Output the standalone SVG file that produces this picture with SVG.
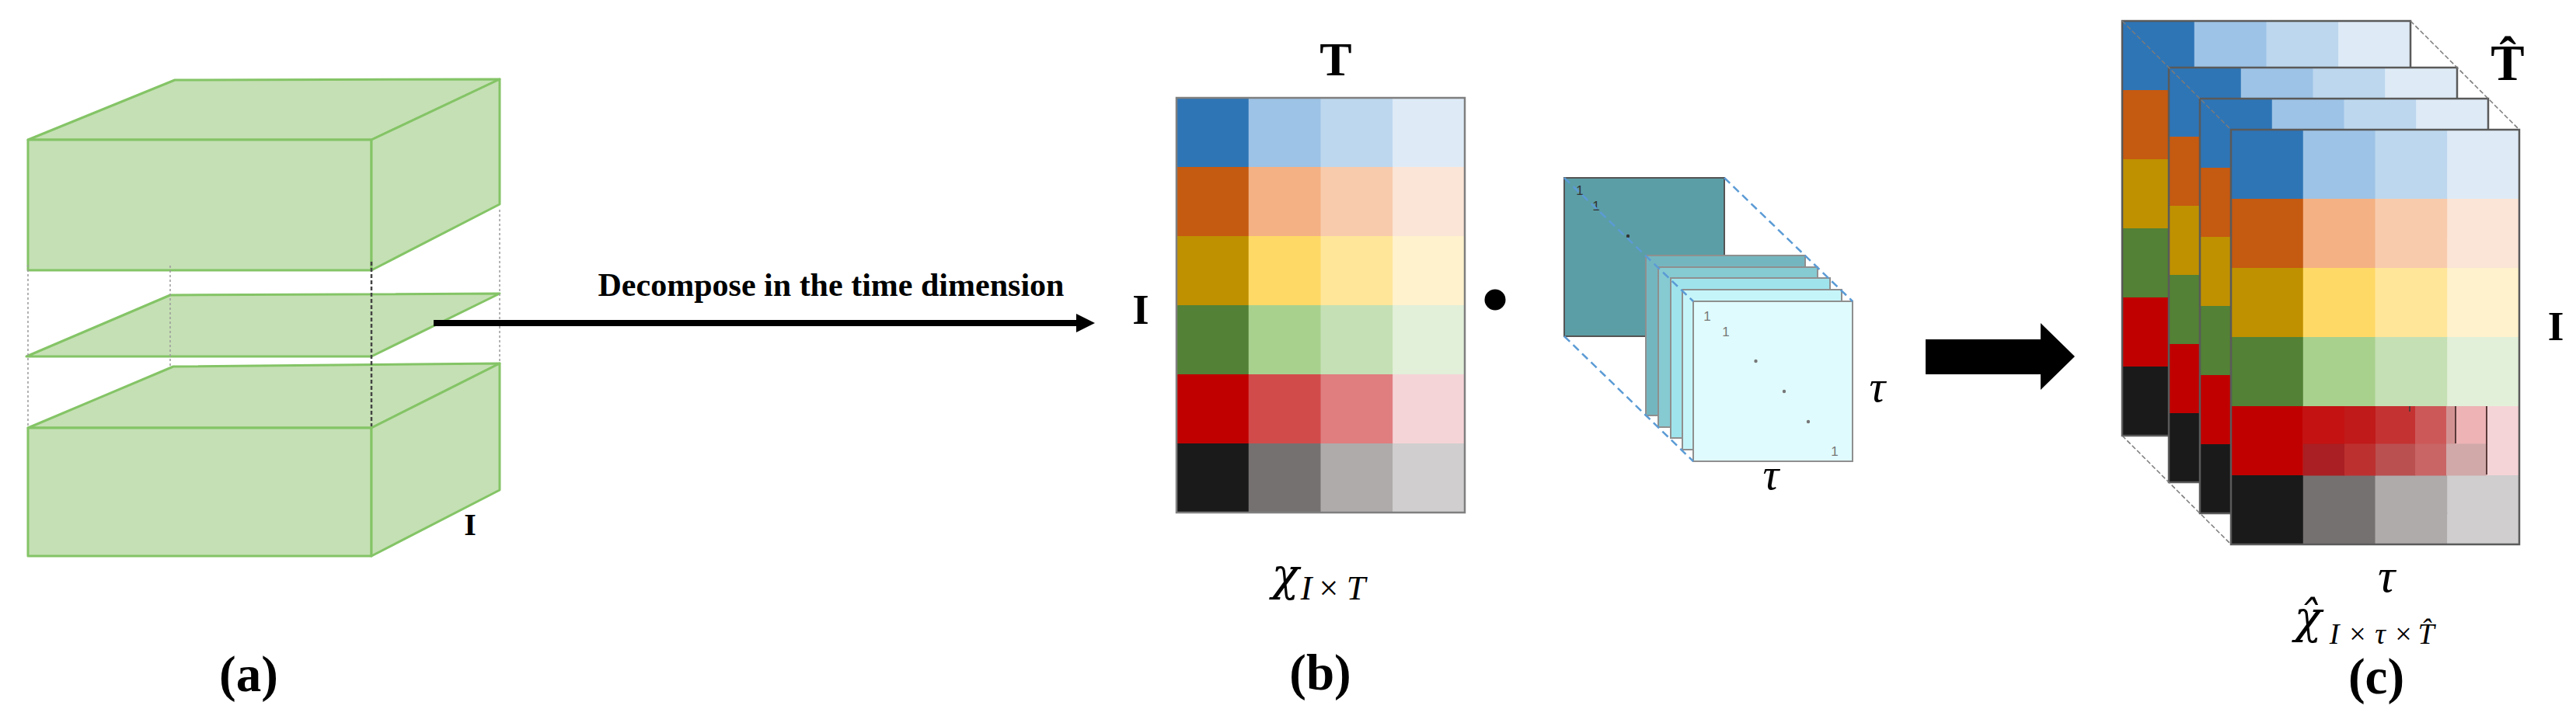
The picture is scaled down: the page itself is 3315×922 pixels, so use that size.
<svg xmlns="http://www.w3.org/2000/svg" xmlns:xlink="http://www.w3.org/1999/xlink" width="3315" height="922" viewBox="0 0 3315 922">
<style>
.g{fill:#C5E0B4;stroke:#84C466;stroke-width:3;stroke-linejoin:round}
.dot{fill:none;stroke:#9A9A9A;stroke-width:1.5;stroke-dasharray:3 3}
.lbl{font-family:"Liberation Serif","Times New Roman",serif;font-weight:bold;fill:#000;text-anchor:middle}
.cap{font-family:"Liberation Serif","Times New Roman",serif;font-weight:bold;fill:#000;text-anchor:start}
.it{font-family:"Liberation Serif","Times New Roman",serif;font-style:italic;fill:#000;text-anchor:middle}
.chi{font-family:"DejaVu Serif",serif;font-style:italic}
.up{font-style:normal}
.plate{stroke:#8F8F8F;stroke-width:2}
.blue{fill:none;stroke:#5B9BD5;stroke-width:2.5;stroke-dasharray:10 6}
.diag{fill:none;stroke:#7A7A7A;stroke-width:1.5;stroke-dasharray:6 3}
.one{font-family:"Liberation Sans",Arial,sans-serif;font-size:17px;text-anchor:middle}
</style>
<defs>
<g id="mat">
<rect x="0" y="0" width="93.25" height="89.5" fill="#2E75B6"/>
<rect x="92.75" y="0" width="93.25" height="89.5" fill="#9DC3E6"/>
<rect x="185.5" y="0" width="93.25" height="89.5" fill="#BDD7EE"/>
<rect x="278.25" y="0" width="92.75" height="89.5" fill="#DEEBF7"/>
<rect x="0" y="89" width="93.25" height="89.5" fill="#C55A11"/>
<rect x="92.75" y="89" width="93.25" height="89.5" fill="#F4B183"/>
<rect x="185.5" y="89" width="93.25" height="89.5" fill="#F8CBAD"/>
<rect x="278.25" y="89" width="92.75" height="89.5" fill="#FBE5D6"/>
<rect x="0" y="178" width="93.25" height="89.5" fill="#BF9000"/>
<rect x="92.75" y="178" width="93.25" height="89.5" fill="#FFD966"/>
<rect x="185.5" y="178" width="93.25" height="89.5" fill="#FFE699"/>
<rect x="278.25" y="178" width="92.75" height="89.5" fill="#FFF2CC"/>
<rect x="0" y="267" width="93.25" height="89.5" fill="#538135"/>
<rect x="92.75" y="267" width="93.25" height="89.5" fill="#A9D18E"/>
<rect x="185.5" y="267" width="93.25" height="89.5" fill="#C5E0B4"/>
<rect x="278.25" y="267" width="92.75" height="89.5" fill="#E2F0D9"/>
<rect x="0" y="356" width="93.25" height="89.5" fill="#C00000"/>
<rect x="92.75" y="356" width="93.25" height="89.5" fill="#D24B4B"/>
<rect x="185.5" y="356" width="93.25" height="89.5" fill="#E07D7F"/>
<rect x="278.25" y="356" width="92.75" height="89.5" fill="#F5D4D7"/>
<rect x="0" y="445" width="93.25" height="89" fill="#1A1A1A"/>
<rect x="92.75" y="445" width="93.25" height="89" fill="#767171"/>
<rect x="185.5" y="445" width="93.25" height="89" fill="#AFABAB"/>
<rect x="278.25" y="445" width="92.75" height="89" fill="#D0CECE"/>
</g>
</defs>
<rect width="3315" height="922" fill="#FFFFFF"/>

<g id="panel-a">
<polygon class="g" points="36,551 223,472 643,468 478,551"/>
<rect class="g" x="36" y="551" width="442" height="165"/>
<polygon class="g" points="478,551 643,468 643,631 478,716"/>
<polygon class="g" points="34,459 219,380 643,378 478,459"/>
<polygon class="g" points="36,180 225,103 643,102 478,180"/>
<rect class="g" x="36" y="180" width="442" height="168"/>
<polygon class="g" points="478,180 643,102 643,263 478,348"/>
<line class="dot" x1="36" y1="341" x2="36" y2="551"/>
<line class="dot" x1="219" y1="342" x2="219" y2="472"/>
<line class="dot" x1="643" y1="270" x2="643" y2="468" stroke="#B5B5B5"/>
<line x1="478" y1="337" x2="478" y2="549" stroke="#444" stroke-width="2.5" stroke-dasharray="5 3"/>
<text class="lbl" x="605" y="689" font-size="40">I</text>
<text class="lbl" x="320" y="890" font-size="65">(a)</text>
</g>

<g id="connectors">
<line x1="558" y1="416" x2="1388" y2="416" stroke="#000" stroke-width="8"/>
<polygon points="1385,404 1409,416 1385,428" fill="#000"/>
<text class="cap" x="769.5" y="381" font-size="42" textLength="600" lengthAdjust="spacingAndGlyphs">Decompose in the time dimension</text>
<polygon points="2478,437 2626,437 2626,416 2670,459 2626,502 2626,482 2478,482" fill="#000"/>
</g>

<g id="matrix-b">
<use xlink:href="#mat" href="#mat" x="1514" y="126"/>
<rect x="1514" y="126" width="371" height="534" fill="none" stroke="#7F7F7F" stroke-width="2.5"/>
<text class="lbl" x="1719" y="97" font-size="62">T</text>
<text class="lbl" x="1468" y="417" font-size="55">I</text>
<text class="it" x="1654" y="760" font-size="58"><tspan class="chi">χ</tspan><tspan x="1681" y="772" font-size="44">I</tspan><tspan class="up" x="1710" y="772" font-size="44">×</tspan><tspan x="1745" y="772" font-size="44">T</tspan></text>
<text class="lbl" x="1699" y="888" font-size="65">(b)</text>
</g>

<g id="product-dot">
<circle cx="1924" cy="386" r="13.5" fill="#000"/>
</g>

<g id="identity-stack">
<rect x="2013" y="229" width="206" height="204" fill="#5B9EA6" stroke="#555" stroke-width="2"/>
<text class="one" x="2033" y="251" fill="#333">1</text>
<text class="one" x="2054" y="271" fill="#333">1</text>
<circle cx="2095" cy="304" r="2.2" fill="#333"/>
<rect class="plate" x="2118" y="329" width="205" height="206" fill="#74B6BF"/>
<rect class="plate" x="2134" y="344" width="205" height="206" fill="#86CAD2"/>
<rect class="plate" x="2150" y="358" width="205" height="206" fill="#9FE4EC"/>
<rect class="plate" x="2165" y="373" width="205" height="206" fill="#C6F5F9"/>
<rect class="plate" x="2179" y="388" width="205" height="206" fill="#E0FBFD"/>
<text class="one" x="2197" y="413" fill="#777">1</text>
<text class="one" x="2221" y="433" fill="#777">1</text>
<circle cx="2259.5" cy="465" r="2.2" fill="#777"/>
<circle cx="2296" cy="504" r="2.2" fill="#777"/>
<circle cx="2327" cy="543" r="2.2" fill="#777"/>
<text class="one" x="2361" y="587" fill="#777">1</text>
<line class="blue" x1="2013" y1="229" x2="2179" y2="388"/>
<line class="blue" x1="2219" y1="229" x2="2384" y2="388"/>
<line class="blue" x1="2013" y1="433" x2="2179" y2="594"/>
<text class="it" x="2416" y="517" font-size="58">τ</text>
<text class="it" x="2279" y="630" font-size="58">τ</text>
</g>

<g id="stack-c">
<use xlink:href="#mat" href="#mat" x="2731" y="27"/>
<rect x="2731" y="27" width="371" height="534" fill="none" stroke="#5A5A5A" stroke-width="2.5"/>
<use xlink:href="#mat" href="#mat" x="2791" y="87"/>
<rect x="2791" y="87" width="371" height="534" fill="none" stroke="#5A5A5A" stroke-width="2.5"/>
<use xlink:href="#mat" href="#mat" x="2831" y="127"/>
<rect x="2831" y="127" width="371" height="534" fill="none" stroke="#5A5A5A" stroke-width="2.5"/>
<use xlink:href="#mat" href="#mat" x="2871" y="167"/>
<rect x="2963.75" y="523" width="53.5" height="49" fill="#C41212"/>
<rect x="3017" y="523" width="40.5" height="49" fill="#C01A1A"/>
<rect x="3057" y="523" width="51.5" height="49" fill="#C53232"/>
<rect x="3108" y="523" width="40.5" height="49" fill="#CD5858"/>
<rect x="3148" y="523" width="12.5" height="49" fill="#D39292"/>
<rect x="3160" y="523" width="40.5" height="49" fill="#EDB3B5"/>
<rect x="2963.75" y="571.5" width="53.5" height="41" fill="#A91F23"/>
<rect x="3017" y="571.5" width="40.5" height="41" fill="#BD3030"/>
<rect x="3057" y="571.5" width="51.5" height="41" fill="#BA5050"/>
<rect x="3108" y="571.5" width="40.5" height="41" fill="#C96565"/>
<rect x="3148" y="571.5" width="52.5" height="41" fill="#D1A9A9"/>
<line x1="3160" y1="523" x2="3160" y2="571" stroke="#5A3A3A" stroke-width="2"/>
<line x1="3200" y1="523" x2="3200" y2="611" stroke="#5A3A3A" stroke-width="2"/>
<line x1="3101" y1="523" x2="3101" y2="530" stroke="#5A3A3A" stroke-width="2"/>
<rect x="2871" y="167" width="371" height="534" fill="none" stroke="#5A5A5A" stroke-width="2.5"/>
<line class="diag" x1="2731" y1="27" x2="2871" y2="167"/>
<line class="diag" x1="3102" y1="27" x2="3242" y2="167"/>
<line class="diag" x1="2731" y1="561" x2="2871" y2="701"/>
<text class="lbl" x="3227" y="103" font-size="65">T̂</text>
<text class="lbl" x="3289" y="438" font-size="53">I</text>
<text class="it" x="3071" y="762" font-size="62">τ</text>
<text class="it" x="2970" y="815" font-size="58"><tspan class="chi">χ̂</tspan><tspan x="3004" y="829" font-size="38">I</tspan><tspan class="up" x="3034" y="829" font-size="38">×</tspan><tspan x="3063" y="829" font-size="38">τ</tspan><tspan class="up" x="3093" y="829" font-size="38">×</tspan><tspan x="3122" y="829" font-size="38">T̂</tspan></text>
<text class="lbl" x="3058" y="893" font-size="65">(c)</text>
</g>
</svg>
